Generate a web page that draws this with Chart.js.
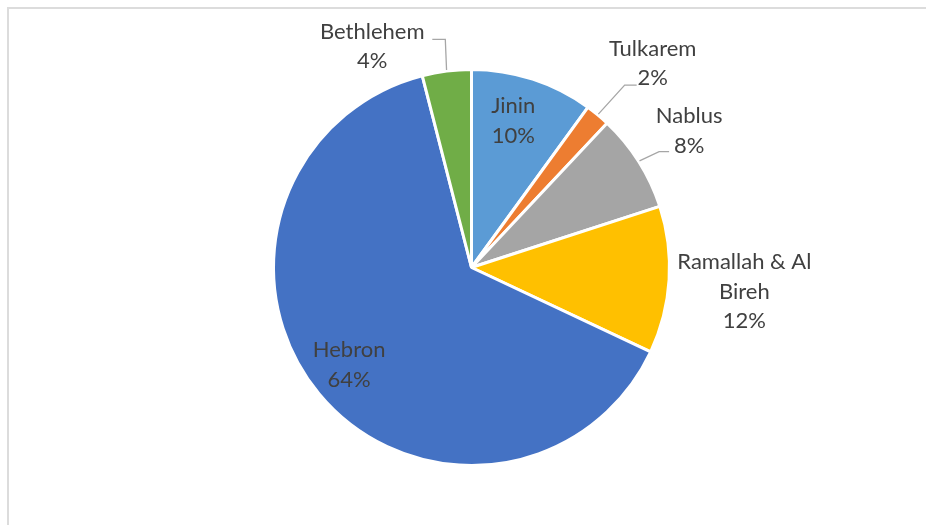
<!DOCTYPE html>
<html>
<head>
<meta charset="utf-8">
<script src="https://cdn.jsdelivr.net/npm/chart.js@4"></script>
<style>
  html, body { margin: 0; padding: 0; background: #ffffff; }
  #wrap { position: relative; width: 926px; height: 525px; overflow: hidden; }
  #frame { position: absolute; left: 7px; top: 7px; width: 1000px; height: 600px;
           border-left: 2px solid #dcdcdc; border-top: 2px solid #dcdcdc; }
  canvas { position: absolute; left: 0; top: 0; }
</style>
</head>
<body>
<div id="wrap">
  <div id="frame"></div>
  <canvas id="pie" width="926" height="525"></canvas>
</div>
<script>
// Governorate shares, clockwise from twelve o'clock
const regions = ['Jinin', 'Tulkarem', 'Nablus', 'Ramallah & Al Bireh', 'Hebron', 'Bethlehem'];
const shares = [10, 2, 8, 12, 64, 4];
const sliceColors = ['#5B9BD5', '#ED7D31', '#A5A5A5', '#FFC000', '#4472C4', '#70AD47'];
// How each name is wrapped in its label
const nameLines = [['Jinin'], ['Tulkarem'], ['Nablus'], ['Ramallah & Al', 'Bireh'], ['Hebron'], ['Bethlehem']];

// Label block centres, in units of the pie radius from its centre
const labelSpots = [
  { dx: 0.211, dy: -0.741 },
  { dx: 0.915, dy: -1.032 },
  { dx: 1.099, dy: -0.691 },
  { dx: 1.378, dy: 0.121 },
  { dx: -0.618, dy: 0.493 },
  { dx: -0.501, dy: -1.117 }
];
// Leader lines: elbow and end points in px relative to the label centre
const leaders = [
  null,
  { ex: -28, ey: 22, tx: -16 },
  { ex: -30, ey: 21, tx: -20 },
  null,
  null,
  { ex: 73, ey: -7, tx: 60 }
];

const LABEL_FONT = '22px Lato, "Open Sans", sans-serif';
const LINE_GAP = 29.5;

const pieLabels = {
  id: 'pieLabels',
  afterDatasetsDraw(chart) {
    const ctx = chart.ctx;
    const arcs = chart.getDatasetMeta(0).data;
    const total = shares.reduce((a, b) => a + b, 0);
    ctx.save();
    ctx.font = LABEL_FONT;
    ctx.fillStyle = '#404040';
    ctx.textAlign = 'center';
    ctx.textBaseline = 'middle';
    arcs.forEach((arc, i) => {
      const { x, y, outerRadius, startAngle, endAngle } = arc.getProps(['x', 'y', 'outerRadius', 'startAngle', 'endAngle'], true);
      const R = outerRadius;
      const lx = x + labelSpots[i].dx * R;
      const ly = y + labelSpots[i].dy * R;
      const pct = Math.round(shares[i] / total * 100) + '%';
      const lines = nameLines[i].concat([pct]);
      const top = ly - (lines.length - 1) * LINE_GAP / 2;
      lines.forEach((t, k) => ctx.fillText(t, lx, top + k * LINE_GAP));

      const ld = leaders[i];
      if (ld) {
        const mid = (startAngle + endAngle) / 2;
        const sx = x + Math.cos(mid) * (R + 1);
        const sy = y + Math.sin(mid) * (R + 1);
        ctx.beginPath();
        ctx.strokeStyle = '#A6A6A6';
        ctx.lineWidth = 1.3;
        ctx.moveTo(sx, sy);
        ctx.lineTo(lx + ld.ex, ly + ld.ey);
        ctx.lineTo(lx + ld.tx, ly + ld.ey);
        ctx.stroke();
      }
    });
    ctx.restore();
  }
};

new Chart(document.getElementById('pie'), {
  type: 'pie',
  data: {
    labels: regions,
    datasets: [{
      data: shares,
      backgroundColor: sliceColors,
      borderColor: '#ffffff',
      borderWidth: 3
    }]
  },
  options: {
    responsive: false,
    animation: false,
    layout: { padding: { left: 272, right: 255, top: 68, bottom: 58 } },
    plugins: {
      legend: { display: false },
      tooltip: { enabled: false }
    }
  },
  plugins: [pieLabels]
});
</script>
</body>
</html>
